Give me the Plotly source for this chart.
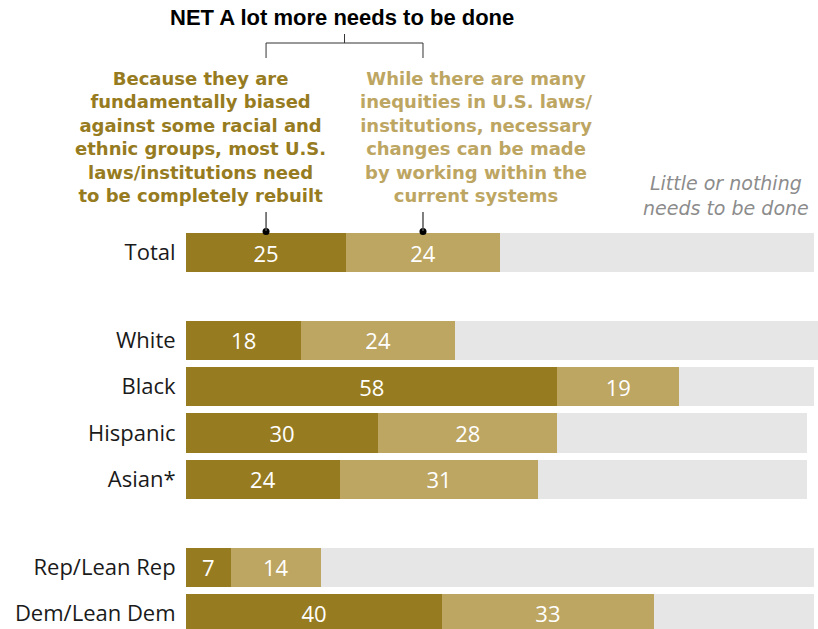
import plotly.graph_objects as go

# ---- data ----
categories = ["Total", "White", "Black", "Hispanic", "Asian*", "Rep/Lean Rep", "Dem/Lean Dem"]
rebuilt = [25, 18, 58, 30, 24, 7, 40]
within_system = [24, 24, 19, 28, 31, 14, 33]
little_nothing = [49, 57, 21, 39, 42, 77, 25]

# ---- layout helpers ----
row_pos = [0, 1.9, 2.9, 3.9, 4.9, 6.8, 7.8]
W, H = 818, 629
ML = 186
PW = W - ML
PX_PER_UNIT = 6.405
ROW_PX = 46.28
Y0_PX = 252.5

DARK = "#967B21"
LIGHT = "#BDA562"
GRAY = "#E6E6E6"
FONT = "Open Sans, Liberation Sans, Arial, sans-serif"
TFONT = "Liberation Sans, Arial, sans-serif"
HFONT = "DejaVu Sans, Verdana, sans-serif"


def px_x(px):
    return (px - ML) / PW


def px_y(py):
    return 1 - py / H


def data_y(py):
    return (py - Y0_PX) / ROW_PX


fig = go.Figure()
bw = 0.843
fig.add_trace(go.Bar(orientation="h", y=row_pos, x=rebuilt, width=bw, marker_color=DARK,
                     text=[str(v) for v in rebuilt], textposition="inside", insidetextanchor="middle",
                     textangle=0, textfont=dict(color="white", size=22, family=FONT),
                     hoverinfo="skip", marker_line_width=0))
fig.add_trace(go.Bar(orientation="h", y=row_pos, x=within_system, width=bw, marker_color=LIGHT,
                     text=[str(v) for v in within_system], textposition="inside", insidetextanchor="middle",
                     textangle=0, textfont=dict(color="white", size=22, family=FONT),
                     hoverinfo="skip", marker_line_width=0))
fig.add_trace(go.Bar(orientation="h", y=row_pos, x=little_nothing, width=bw, marker_color=GRAY,
                     hoverinfo="skip", marker_line_width=0))

# pointer positions from Total row
p1 = rebuilt[0] / 2
p2 = rebuilt[0] + within_system[0] / 2
pm = (p1 + p2) / 2

fig.add_trace(go.Scatter(x=[p1, p2], y=[data_y(231.5)] * 2, mode="markers",
                         marker=dict(size=7, color="black"), hoverinfo="skip", cliponaxis=False))

shapes = []
line_style = dict(color="#333333", width=1)
for p in (p1, p2):
    shapes.append(dict(type="line", xref="x", yref="paper", x0=p, x1=p,
                       y0=px_y(212), y1=px_y(231), line=dict(color="#555555", width=1.5)))
    shapes.append(dict(type="line", xref="x", yref="paper", x0=p, x1=p,
                       y0=px_y(43), y1=px_y(58), line=line_style))
shapes.append(dict(type="line", xref="x", yref="paper", x0=p1, x1=p2,
                   y0=px_y(43), y1=px_y(43), line=line_style))
shapes.append(dict(type="line", xref="x", yref="paper", x0=pm, x1=pm,
                   y0=px_y(34), y1=px_y(43), line=line_style))

annotations = [
    dict(text="<b>NET A lot more needs to be done</b>", x=px_x(342), y=px_y(18),
         font=dict(size=22, color="black", family=TFONT)),
    dict(text="<b>Because they are<br>fundamentally biased<br>against some racial and<br>ethnic groups, most U.S.<br>laws/institutions need<br>to be completely rebuilt</b>",
         x=px_x(200), y=px_y(137), font=dict(size=18, color=DARK, family=HFONT)),
    dict(text="<b>While there are many<br>inequities in U.S. laws/<br>institutions, necessary<br>changes can be made<br>by working within the<br>current systems</b>",
         x=px_x(476), y=px_y(137), font=dict(size=18, color=LIGHT, family=HFONT)),
    dict(text="<i>Little or nothing<br>needs to be done</i>", x=px_x(726), y=px_y(195),
         font=dict(size=19, color="#8C8C8C", family=HFONT)),
]
for a in annotations:
    a.update(xref="paper", yref="paper", xanchor="center", yanchor="middle",
             showarrow=False, align="center")

fig.update_layout(
    width=W, height=H, barmode="stack", showlegend=False,
    margin=dict(l=ML, r=0, t=0, b=0),
    plot_bgcolor="white", paper_bgcolor="white",
    font=dict(family=FONT),
    xaxis=dict(range=[0, PW / PX_PER_UNIT], visible=False, fixedrange=True),
    yaxis=dict(range=[data_y(H), data_y(0)], tickvals=row_pos, ticktext=categories,
               showgrid=False, zeroline=False, showline=False,
               ticks="outside", ticklen=5, tickcolor="rgba(0,0,0,0)",
               tickfont=dict(size=22, color="#1a1a1a", family=FONT), fixedrange=True),
    shapes=shapes, annotations=annotations,
)

fig.write_html("out.html", config={"displayModeBar": False},
               post_script="document.body.style.margin='0px';document.body.style.overflow='hidden';")
